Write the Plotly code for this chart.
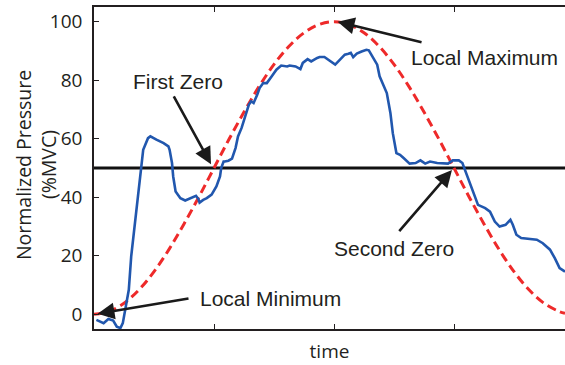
import plotly.graph_objects as go

# ---- data ----
time_measured = [0.02, 0.08, 0.12, 0.16, 0.19, 0.22, 0.24, 0.26, 0.29, 0.31, 0.34, 0.37,
                 0.41, 0.45, 0.47, 0.52, 0.58, 0.62, 0.63, 0.65, 0.66, 0.68, 0.72, 0.76,
                 0.80, 0.85, 0.87, 0.88, 0.91, 0.94, 0.98, 1.02, 1.05, 1.06, 1.08, 1.09,
                 1.12, 1.15, 1.18, 1.20, 1.23, 1.26, 1.29, 1.31, 1.33, 1.36, 1.38, 1.41,
                 1.44, 1.48, 1.52, 1.56, 1.61, 1.63, 1.68, 1.72, 1.74, 1.78, 1.81, 1.86,
                 1.88, 1.92, 1.95, 2.01, 2.05, 2.09, 2.12, 2.14, 2.16, 2.19, 2.23, 2.27,
                 2.29, 2.33, 2.36, 2.38, 2.41, 2.44, 2.47, 2.49, 2.52, 2.55, 2.58, 2.63,
                 2.68, 2.72, 2.76, 2.80, 2.86, 2.91, 2.95, 2.99, 3.04, 3.07, 3.09, 3.13,
                 3.18, 3.20, 3.26, 3.30, 3.34, 3.38, 3.43, 3.47, 3.49, 3.52, 3.56, 3.63,
                 3.69, 3.74, 3.80, 3.84, 3.88, 3.925]
pressure_measured = [-1.9, -3.0, -1.6, -2.1, -4.2, -4.7, -3.0, 1.5, 8.4, 19.8, 31.2, 42.6,
                     56.2, 60.2, 60.8, 59.7, 58.5, 57.4, 56.2, 51.7, 47.1, 42.0, 39.7, 38.9,
                     39.7, 40.5, 39.4, 38.2, 39.1, 39.7, 40.9, 43.7, 47.1, 50.0, 52.2, 52.2,
                     52.5, 53.2, 56.9, 60.8, 63.7, 67.6, 71.6, 72.8, 72.2, 75.0, 77.3, 79.0,
                     79.0, 81.3, 83.6, 85.0, 84.7, 85.0, 84.7, 83.8, 85.9, 87.2, 86.4, 87.6,
                     87.9, 87.9, 87.0, 85.3, 87.0, 88.7, 89.0, 89.3, 87.9, 89.1, 89.8, 90.4,
                     90.2, 87.6, 85.3, 81.3, 78.5, 75.6, 68.8, 61.9, 55.1, 54.5, 53.4, 51.5,
                     51.7, 52.6, 51.5, 52.2, 51.7, 51.7, 51.5, 52.6, 52.6, 51.7, 49.4, 44.9,
                     39.1, 37.4, 36.3, 35.1, 31.7, 30.0, 30.6, 32.3, 30.6, 27.2, 26.1, 25.7,
                     25.5, 24.3, 22.1, 19.2, 15.8, 14.6]

time_model = [0, 0.125, 0.25, 0.375, 0.5, 0.625, 0.75, 0.875, 1.0, 1.125, 1.25, 1.375,
              1.5, 1.625, 1.75, 1.875, 2.0, 2.125, 2.25, 2.375, 2.5, 2.625, 2.75, 2.875,
              3.0, 3.125, 3.25, 3.375, 3.5, 3.625, 3.75, 3.875, 3.925]
pressure_model = [0, 1, 3.8, 8.4, 14.6, 22.2, 30.9, 40.2, 50, 59.8, 69.1, 77.8,
                  85.4, 91.6, 96.2, 99.0, 100, 99.0, 96.2, 91.6, 85.4, 77.8, 69.1, 59.8,
                  50, 40.2, 30.9, 22.2, 14.6, 8.4, 3.8, 1.0, 0.35]

threshold = 50
x_range = [0, 3.925]
y_range = [-5, 105]
y_ticks = [0, 20, 40, 60, 80, 100]
x_ticks = [0, 1, 2, 3]
y_title_lines = ["Normalized Pressure", "(%MVC)"]
x_title = "time"

# annotations: (label, text_x, text_y, tail_x, tail_y, tip_x, tip_y)
notes = [
    ("Local Maximum", 3.258, 87.7, 2.742, 92.8, 2.03, 100.0),
    ("First Zero", 0.70, 79.5, 0.658, 75.0, 0.975, 51.3),
    ("Second Zero", 2.504, 22.4, 2.533, 27.9, 2.983, 49.3),
    ("Local Minimum", 1.467, 5.5, 0.80, 5.5, 0.03, 0.2),
]

fig = go.Figure()
fig.add_trace(go.Scatter(x=x_range, y=[threshold, threshold], mode="lines",
                         line=dict(color="#111111", width=3), hoverinfo="skip"))
fig.add_trace(go.Scatter(x=time_model, y=pressure_model, mode="lines",
                         line=dict(color="#EE2A2A", width=3, dash="9px,5px", shape="spline")))
fig.add_trace(go.Scatter(x=time_measured, y=pressure_measured, mode="lines",
                         line=dict(color="#2157AE", width=2.6)))

for label, tx, ty, ax_, ay_, px_, py_ in notes:
    fig.add_annotation(x=px_, y=py_, ax=ax_, ay=ay_, xref="x", yref="y",
                       axref="x", ayref="y", text="", showarrow=True,
                       arrowhead=2, arrowsize=1.3, arrowwidth=2.6, arrowcolor="#1a1a1a")
    fig.add_annotation(x=tx, y=ty, xref="x", yref="y", text=label, showarrow=False,
                       font=dict(family="Liberation Sans, Arial", size=21, color="#231f20"),
                       xanchor="center", yanchor="middle")

# two-line rotated y-axis title
for line_text, cx in zip(y_title_lines, [23, 48]):
    fig.add_annotation(x=(cx - 94) / 471, y=0.509, xref="paper", yref="paper",
                       text=line_text, showarrow=False, textangle=-90,
                       font=dict(family="Open Sans", size=19.5, color="#231f20"),
                       xanchor="center", yanchor="middle")

fig.update_layout(
    width=565, height=365,
    margin=dict(l=94, r=0, t=7, b=36),
    paper_bgcolor="white", plot_bgcolor="white",
    showlegend=False,
    font=dict(family="Open Sans", size=18, color="#231f20"),
    xaxis=dict(range=x_range, tickvals=x_ticks, showticklabels=False,
               ticks="inside", ticklen=5, tickwidth=1.2, tickcolor="#231f20",
               showline=True, linecolor="#231f20", linewidth=1.5, mirror="allticks",
               showgrid=False, zeroline=False,
               title=dict(text=x_title, font=dict(family="Open Sans", size=19), standoff=15)),
    yaxis=dict(range=y_range, tickvals=y_ticks, ticks="inside", ticklen=5,
               tickwidth=1.2, tickcolor="#231f20",
               showline=True, linecolor="#231f20", linewidth=1.5, mirror=False,
               showgrid=False, zeroline=False, ticklabelstandoff=6,
               tickfont=dict(family="Open Sans", size=19, color="#231f20")),
)

fig.write_html("out.html")
